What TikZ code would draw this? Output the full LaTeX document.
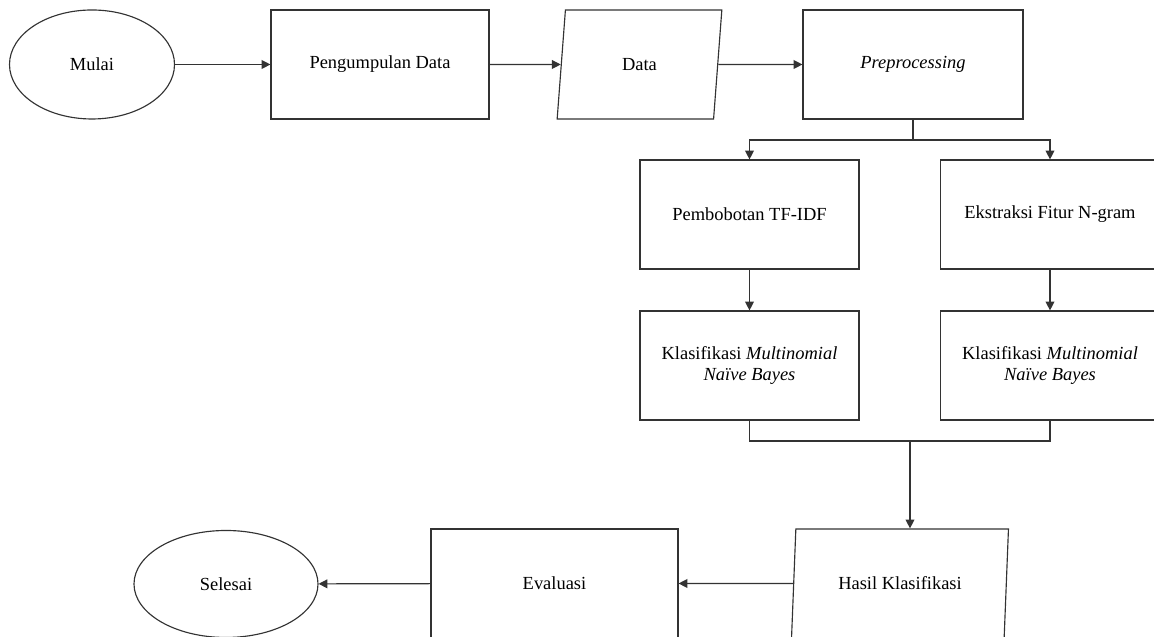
\documentclass[tikz,border=0pt]{standalone}
\usepackage{fontspec}
\setmainfont{Liberation Serif}
\usetikzlibrary{shapes.geometric,arrows.meta}

\begin{document}
\begin{tikzpicture}[>={Triangle[length=5pt,width=5pt]},
		every node/.style={font=\fontsize{10.5}{12}\selectfont},
		garis/.style={draw=black!80,line width=0.65pt},
		proses/.style={garis,rectangle,minimum width=4.38cm,minimum height=2.18cm,align=center,inner sep=0pt},
		terminal/.style={garis,ellipse,minimum width=3.3cm,minimum height=2.18cm,inner sep=0pt},
		io/.style={garis,trapezium,trapezium stretches=true,minimum height=2.18cm,inner sep=0pt}]
			\useasboundingbox (0,0) rectangle (23.08,12.74);
			\node[terminal] (mulai) at (1.84,11.45) {Mulai};
			\node[proses,minimum width=4.36cm] (peng) at (7.6,11.45) {Pengumpulan Data};
			\node[io,minimum width=3.3cm,trapezium left angle=81,trapezium right angle=99] (data) at (12.79,11.45) {Data};
			\node[proses,minimum width=4.4cm] (pre) at (18.26,11.45) {\textit{Preprocessing}};
			\node[proses] (tfidf) at (14.99,8.45) {Pembobotan TF-IDF};
			\node[proses] (ngram) at (21.0,8.45) {Ekstraksi Fitur N-gram};
			\node[proses] (mnb1) at (14.99,5.43) {Klasifikasi \textit{Multinomial}\\\textit{Naïve Bayes}};
			\node[proses] (mnb2) at (21.0,5.43) {Klasifikasi \textit{Multinomial}\\\textit{Naïve Bayes}};
			\node[io,minimum width=4.36cm,trapezium left angle=79,trapezium right angle=101] (hasil) at (18.0,1.07) {Hasil Klasifikasi};
			\node[proses,minimum width=4.94cm] (eval) at (11.09,1.07) {Evaluasi};
			\node[terminal,minimum width=3.68cm,minimum height=2.14cm] (selesai) at (4.52,1.06) {Selesai};
			\coordinate (cabang) at (18.26,9.94);
			\coordinate (gabung) at (18.2,3.92);
			\draw[garis,->] (mulai) -- (peng);
			\draw[garis,->] (peng) -- (data);
			\draw[garis,->] (data) -- (pre);
			\draw[garis] (pre.south) -- (cabang);
			\draw[garis,->] (cabang) -| (tfidf.north);
			\draw[garis,->] (cabang) -| (ngram.north);
			\draw[garis,->] (tfidf) -- (mnb1);
			\draw[garis,->] (ngram) -- (mnb2);
			\draw[garis] (mnb1.south) |- (gabung) -| (mnb2.south);
			\draw[garis,->] (gabung) -- (gabung |- hasil.north);
			\draw[garis,->] (hasil) -- (eval);
			\draw[garis,->] (eval) -- (selesai);
		\end{tikzpicture}
\end{document}
